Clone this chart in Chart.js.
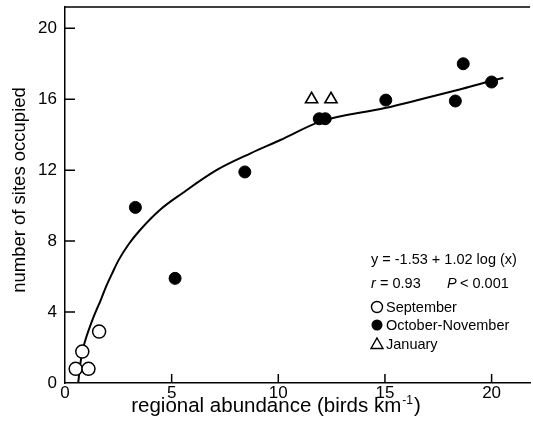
<!DOCTYPE html>
<html>
<head>
<meta charset="utf-8">
<script src="https://cdn.jsdelivr.net/npm/chart.js@4.4.0/dist/chart.umd.min.js"></script>
<style>
  html, body { margin: 0; padding: 0; background: #fff; overflow: hidden; }
  #caixa { width: 533px; height: 434px; }
  canvas { display: block; }
</style>
</head>
<body>
<div id="caixa"><canvas id="grafico"></canvas></div>
<script>
// September (open circles)
const setX = [0.5, 0.81, 1.1, 1.6];
const setY = [0.8, 1.77, 0.8, 2.9];
// October-November (filled circles)
const outX = [3.3, 5.16, 8.43, 11.92, 12.2, 15.04, 18.3, 18.67, 20.0];
const outY = [9.9, 5.9, 11.9, 14.9, 14.9, 15.95, 15.9, 18.0, 16.97];
// January (triangles)
const janX = [11.56, 12.47];
const janY = [16.0, 16.0];
// fitted curve
const curvaX = [0.62, 0.7, 0.81, 0.95, 1.3, 1.7, 1.95, 2.2, 2.5, 3.0, 3.5, 4.46, 5.5, 7.1, 8.7, 10.1, 12.0, 15.0, 16.7, 18.5, 20.05, 20.55];
const curvaY = [0.0, 0.9, 1.77, 2.4, 3.6, 4.75, 5.5, 6.15, 6.9, 7.85, 8.6, 9.77, 10.7, 12.0, 12.95, 13.7, 14.75, 15.5, 16.0, 16.55, 17.06, 17.2];
// tick labels
const xTicks = [0, 5, 10, 15, 20];
const yTicks = [0, 4, 8, 12, 16, 20];

function pontos(xs, ys) {
  return xs.map((x, i) => ({ x: x, y: ys[i] }));
}

const fonte = '"Liberation Sans", Arial, Helvetica, sans-serif';

// top frame line, inward ticks, axis titles, equation and legend
const extras = {
  id: 'extras',
  afterDraw(chart) {
    const ctx = chart.ctx;
    const a = chart.chartArea;
    const sx = chart.scales.x;
    const sy = chart.scales.y;
    ctx.save();
    ctx.strokeStyle = '#000';
    ctx.lineWidth = 1.5;
    ctx.beginPath();
    ctx.moveTo(a.left, a.top);
    ctx.lineTo(a.right, a.top);
    xTicks.forEach(v => {
      if (v === 0) return;
      const px = sx.getPixelForValue(v);
      ctx.moveTo(px, a.bottom);
      ctx.lineTo(px, a.bottom - 9);
    });
    yTicks.forEach(v => {
      if (v === 0) return;
      const py = sy.getPixelForValue(v);
      ctx.moveTo(a.left, py);
      ctx.lineTo(a.left + 10, py);
    });
    ctx.stroke();

    ctx.fillStyle = '#000';
    ctx.textBaseline = 'alphabetic';

    // y title
    ctx.save();
    ctx.translate(25, 190);
    ctx.rotate(-Math.PI / 2);
    ctx.textAlign = 'center';
    ctx.font = '18.5px ' + fonte;
    ctx.fillText('number of sites occupied', 0, 0);
    ctx.restore();

    // x title with superscript
    ctx.textAlign = 'left';
    const grande = '20.5px ' + fonte;
    const pequeno = '12px ' + fonte;
    ctx.font = grande;
    const t1 = 'regional abundance (birds km';
    const w1 = ctx.measureText(t1).width;
    ctx.font = pequeno;
    const t2 = '-1';
    const w2 = ctx.measureText(t2).width;
    ctx.font = grande;
    const t3 = ')';
    const w3 = ctx.measureText(t3).width;
    const x0 = 276 - (w1 + w2 + w3 + 2) / 2;
    ctx.fillText(t1, x0, 412);
    ctx.font = pequeno;
    ctx.fillText(t2, x0 + w1 + 1, 404);
    ctx.font = grande;
    ctx.fillText(t3, x0 + w1 + w2 + 2, 412);

    // equation
    const f = '14.5px ' + fonte;
    const fi = 'italic 14.5px ' + fonte;
    ctx.font = f;
    ctx.fillText('y = -1.53 + 1.02 log (x)', 371, 264);
    ctx.font = fi;
    ctx.fillText('r', 371, 288);
    ctx.font = f;
    ctx.fillText(' = 0.93', 371 + 5, 288);
    ctx.font = fi;
    ctx.fillText('P', 447, 288);
    ctx.font = f;
    ctx.fillText(' < 0.001', 447 + 9, 288);

    // legend
    const itens = [
      { txt: 'September', y: 307, tipo: 'aberto' },
      { txt: 'October-November', y: 325, tipo: 'cheio' },
      { txt: 'January', y: 344, tipo: 'tri' }
    ];
    itens.forEach(it => {
      ctx.beginPath();
      ctx.lineWidth = 1.4;
      if (it.tipo === 'tri') {
        ctx.moveTo(377, it.y - 6);
        ctx.lineTo(383, it.y + 4.5);
        ctx.lineTo(371, it.y + 4.5);
        ctx.closePath();
        ctx.stroke();
      } else {
        ctx.arc(377, it.y, 5.5, 0, Math.PI * 2);
        if (it.tipo === 'cheio') { ctx.fill(); } else { ctx.stroke(); }
      }
      ctx.font = f;
      ctx.fillText(it.txt, 386, it.y + 5);
    });
    ctx.restore();
  }
};

const config = {
  type: 'scatter',
  data: {
    datasets: [
      {
        label: 'September',
        data: pontos(setX, setY),
        pointStyle: 'circle',
        pointRadius: 6.5,
        pointBackgroundColor: '#fff',
        pointBorderColor: '#000',
        pointBorderWidth: 1.5,
        order: 1
      },
      {
        label: 'October-November',
        data: pontos(outX, outY),
        pointStyle: 'circle',
        pointRadius: 6,
        pointBackgroundColor: '#000',
        pointBorderColor: '#000',
        pointBorderWidth: 1,
        order: 1
      },
      {
        label: 'January',
        data: pontos(janX, janY),
        pointStyle: 'triangle',
        pointRadius: 7,
        pointBackgroundColor: '#fff',
        pointBorderColor: '#000',
        pointBorderWidth: 1.6,
        order: 1
      },
      {
        label: 'fit',
        data: pontos(curvaX, curvaY),
        showLine: true,
        pointRadius: 0,
        borderColor: '#000',
        borderWidth: 2,
        cubicInterpolationMode: 'monotone',
        fill: false,
        order: 5
      }
    ]
  },
  options: {
    responsive: true,
    maintainAspectRatio: false,
    animation: false,
    layout: { autoPadding: false, padding: { left: 0, top: 7, right: 3, bottom: 0 } },
    plugins: {
      legend: { display: false },
      tooltip: { enabled: false }
    },
    scales: {
      x: {
        type: 'linear',
        min: 0,
        max: 21.8,
        afterBuildTicks(scale) { scale.ticks = xTicks.map(v => ({ value: v })); },
        afterFit(scale) {
          scale.height = 51;
          scale.paddingLeft = 0;
          scale.paddingRight = 0;
        },
        grid: { drawOnChartArea: false, drawTicks: false },
        border: { display: true, color: '#000', width: 1.5 },
        ticks: { color: '#000', padding: 0, font: { family: fonte, size: 17 } }
      },
      y: {
        type: 'linear',
        min: 0,
        max: 21.2,
        afterBuildTicks(scale) { scale.ticks = yTicks.map(v => ({ value: v })); },
        afterFit(scale) {
          scale.width = 65;
          scale.paddingTop = 0;
          scale.paddingBottom = 0;
        },
        grid: { drawOnChartArea: false, drawTicks: false },
        border: { display: true, color: '#000', width: 1.5 },
        ticks: { color: '#000', padding: 8, font: { family: fonte, size: 17 } }
      }
    }
  },
  plugins: [extras]
};

new Chart(document.getElementById('grafico'), config);
</script>
</body>
</html>
